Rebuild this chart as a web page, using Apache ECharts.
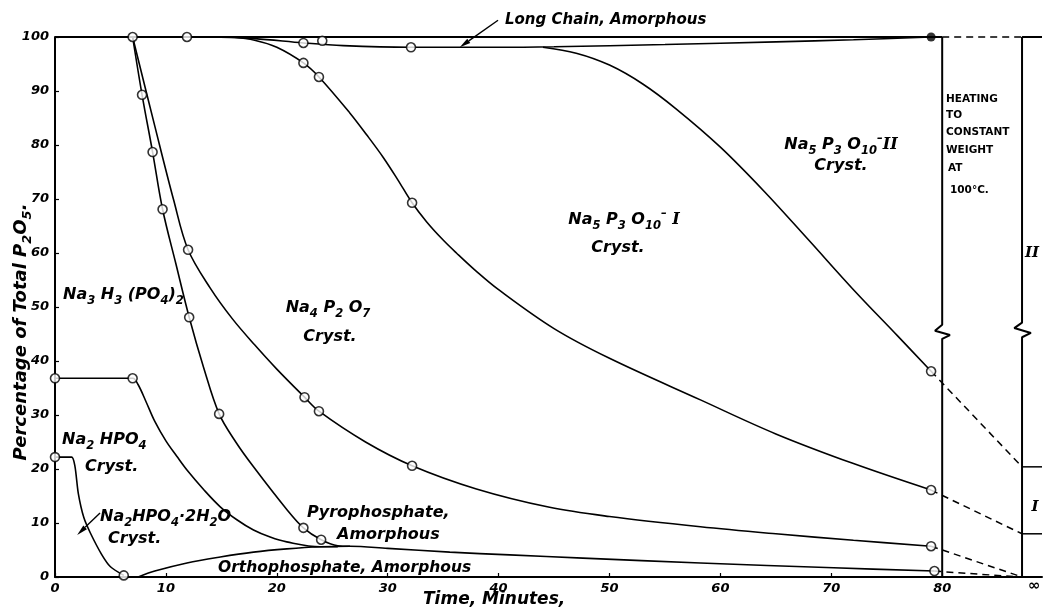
<!DOCTYPE html>
<html>
<head>
<meta charset="utf-8">
<script src="https://cdn.jsdelivr.net/npm/echarts@6/dist/echarts.min.js"></script>
<style>html,body{margin:0;padding:0;background:#fff}#c{width:1043px;height:609px}</style>
</head>
<body>
<div id="c"></div>
<script>
// ---------- data ----------
const xTickValues = [0, 10, 20, 30, 40, 50, 60, 70, 80];
const yTickValues = [0, 10, 20, 30, 40, 50, 60, 70, 80, 90, 100];
const infinityX = 87.2;

const topLine = [[0, 100], [80, 100]];
const topDash = [[80, 100], [87.2, 100]];
const longChainLower = [[7, 100], [14, 100], [18, 99.7], [22.4, 98.9], [26, 98.4], [32, 98.1], [40, 98.1], [45, 98.2], [55, 98.6], [65, 99.1], [72, 99.5], [79, 100]];
const tripolyIIBoundary = [[44, 98.1], [47, 97], [50, 94.8], [53, 91.3], [56, 86.7], [60, 79.6], [64, 71.3], [68, 62.3], [72, 53.2], [76, 44.6], [79, 38.1]];
const tripolyIIExt = [[79, 38.1], [87.2, 20.4]];
const tripolyIBoundary = [[16, 100], [18, 99.4], [20, 98.1], [22.4, 95.2], [23.8, 92.6], [26.6, 85.9], [28.1, 81.9], [29.6, 77.7], [30.9, 73.6], [32.2, 69.3], [33.5, 65.8], [35, 62.4], [36.2, 60], [38, 56.6], [40, 53.2], [45, 46], [50, 40.5], [58.2, 32.8], [65, 26.5], [72, 21], [79, 16.1]];
const tripolyIExt = [[79, 16.1], [87.2, 8]];
const pyroCrystBoundary = [[7, 100], [9, 83.5], [10.7, 69.8], [12, 60.6], [14, 53.5], [16, 47.8], [18, 43], [20, 38.5], [22.5, 33.3], [23.8, 30.7], [28, 25], [32.2, 20.6], [38, 16.3], [44.6, 12.9], [50, 11.2], [58.2, 9.3], [65, 8], [72, 6.8], [79, 5.7]];
const pyroCrystExt = [[79, 5.7], [87.2, 0]];
const pyroAmorphBoundary = [[7, 100], [7.85, 89.3], [8.8, 78.7], [9.7, 68.1], [10.9, 58], [12.1, 48.1], [13.4, 38.8], [14.8, 30.2], [16.3, 25], [17.9, 20.4], [20.9, 12.5], [22.4, 9.1], [24, 6.9], [25.5, 5.8], [26.6, 5.7]];
const acidSaltBoundary = [[0, 36.8], [7, 36.8], [7.5, 35.6], [8.2, 32.5], [9, 28.8], [10, 25.2], [11, 22.3], [11.9, 19.8], [13.4, 16.2], [14.9, 13], [16.4, 10.6], [17.9, 8.7], [19.4, 7.4], [20.9, 6.5], [23.9, 5.6], [25.5, 5.6]];
const dihydrateBoundary = [[0, 22.2], [1.5, 22.2], [1.8, 20.5], [2.1, 15.5], [2.6, 11], [3.2, 8.1], [4.2, 4.2], [5, 1.9], [6.2, 0.3]];
const orthoBoundary = [[7.5, 0], [9, 1.1], [11.9, 2.6], [14.9, 3.7], [17.9, 4.6], [20.9, 5.2], [23.9, 5.6], [26.6, 5.7], [30, 5.3], [35.6, 4.6], [41, 4.1], [47.6, 3.5], [58.2, 2.6], [70.2, 1.7], [79.3, 1.1]];
const orthoExt = [[79.3, 1.1], [87, 0]];

const openCircles = [[7, 100], [11.9, 100], [22.4, 98.9], [24.1, 99.3], [32.1, 98.1],
  [22.4, 95.2], [23.8, 92.6], [32.2, 69.3], [79, 38.1], [79, 16.1],
  [7.85, 89.3], [8.8, 78.7], [9.7, 68.1], [12.1, 48.1], [14.8, 30.2], [22.4, 9.1], [24, 6.9],
  [12, 60.6], [22.5, 33.3], [23.8, 30.7], [32.2, 20.6], [79, 5.7],
  [0, 36.8], [7, 36.8], [0, 22.2], [6.2, 0.3], [79.3, 1.1]];
const filledCircles = [[79, 100]];

const heatingBar = [[80, 0], [80, 44.1], [80.7, 44.8], [79.35, 45.6], [80, 46.7], [80, 100]];
const infinityBar = [[87.2, 0], [87.2, 44.4], [88, 45.2], [86.5, 46.1], [87.2, 47.1], [87.2, 100]];
const infTop = [[87.2, 100], [89, 100]];
const infSplitII = [[87.2, 20.4], [89, 20.4]];
const infSplitI = [[87.2, 8], [89, 8]];

const longChainArrow = [[39.95, 103.1], [36.5, 98.1]];
const dihydrateArrow = [[4.06, 11.85], [2.0, 7.8]];

// ---------- chart ----------
const FF = '"DejaVu Sans", sans-serif';
const chart = echarts.init(document.getElementById('c'));

function line(data, opts) {
  return Object.assign({
    type: 'line', data: data, symbol: 'none', smooth: 0.35, clip: false,
    silent: true, z: 2,
    lineStyle: { color: '#000', width: 1.6 }
  }, opts || {});
}
function dashed(data) {
  return line(data, { smooth: false, lineStyle: { color: '#000', width: 1.5, type: [7, 5] } });
}
function straight(data, w) {
  return line(data, { smooth: false, lineStyle: { color: '#000', width: w || 2 } });
}

const option = {
  animation: false,
  backgroundColor: '#fff',
  grid: { left: 55, right: 1, top: 37, bottom: 32 },
  xAxis: {
    type: 'value', min: 0, max: 89, interval: 10,
    axisLine: { lineStyle: { color: '#000', width: 2 } },
    axisTick: { inside: true, length: 4, customValues: xTickValues, lineStyle: { color: '#000', width: 1.2 } },
    axisLabel: { customValues: xTickValues, margin: 5, color: '#000', fontFamily: FF, fontStyle: 'italic', fontWeight: 'bold', fontSize: 13 },
    splitLine: { show: false }
  },
  yAxis: {
    type: 'value', min: 0, max: 100, interval: 10,
    axisLine: { show: true, lineStyle: { color: '#000', width: 2 } },
    axisTick: { show: true, inside: true, length: 4, customValues: yTickValues, lineStyle: { color: '#000', width: 1.2 } },
    axisLabel: { customValues: yTickValues, margin: 6, color: '#000', fontFamily: FF, fontStyle: 'italic', fontWeight: 'bold', fontSize: 13 },
    splitLine: { show: false }
  },
  series: [
    straight(topLine, 2),
    dashed(topDash),
    line(longChainLower),
    line(tripolyIIBoundary),
    dashed(tripolyIIExt),
    line(tripolyIBoundary),
    dashed(tripolyIExt),
    line(pyroCrystBoundary),
    dashed(pyroCrystExt),
    line(pyroAmorphBoundary),
    line(acidSaltBoundary),
    line(dihydrateBoundary, { smooth: 0.25 }),
    line(orthoBoundary),
    dashed(orthoExt),
    straight(heatingBar, 2),
    straight(infinityBar, 2),
    straight(infTop, 2),
    straight(infSplitII, 1.5),
    straight(infSplitI, 1.5),
    {
      type: 'scatter', data: openCircles, symbol: 'circle', symbolSize: 9, clip: false, z: 5, silent: true,
      itemStyle: { color: '#fff', borderColor: '#000', borderWidth: 1.6 }
    },
    {
      type: 'scatter', data: filledCircles, symbol: 'circle', symbolSize: 9, clip: false, z: 5, silent: true,
      itemStyle: { color: '#000' }
    }
  ]
};
chart.setOption(option);

// ---------- annotations ----------
function rich(fs) {
  const sub = fs * 0.72;
  const base = { fontFamily: FF, fontStyle: 'italic', fontWeight: 'bold', fill: '#000' };
  return {
    s: Object.assign({ fontSize: sub, lineHeight: sub, verticalAlign: 'bottom' }, base),
    u: Object.assign({ fontSize: sub, lineHeight: sub, verticalAlign: 'top' }, base),
    r: Object.assign({}, base, { fontFamily: '"DejaVu Serif", serif', fontSize: fs })
  };
}
function txt(text, x, y, fs, align, extra) {
  return Object.assign({
    type: 'text', silent: true, z: 10,
    style: {
      text: text, x: x, y: y, fill: '#000',
      fontFamily: FF, fontStyle: 'italic', fontWeight: 'bold', fontSize: fs,
      lineHeight: fs * 1.5, align: align || 'left', verticalAlign: 'middle',
      rich: rich(fs)
    }
  }, extra || {});
}
function plain(text, x, y, fs) {
  return {
    type: 'text', silent: true, z: 10,
    style: { text: text, x: x, y: y, fill: '#000', fontFamily: FF, fontWeight: 'bold', fontSize: fs, align: 'left', verticalAlign: 'middle' }
  };
}
function arrow(pts) {
  const a = chart.convertToPixel({ gridIndex: 0 }, pts[0]);
  const b = chart.convertToPixel({ gridIndex: 0 }, pts[1]);
  const dx = b[0] - a[0], dy = b[1] - a[1];
  const len = Math.sqrt(dx * dx + dy * dy);
  const ux = dx / len, uy = dy / len;
  const hl = 11, hw = 2.6;
  const bx = b[0] - ux * hl, by = b[1] - uy * hl;
  return [
    { type: 'line', silent: true, z: 9, shape: { x1: a[0], y1: a[1], x2: bx, y2: by }, style: { stroke: '#000', lineWidth: 1.4 } },
    { type: 'polygon', silent: true, z: 9, shape: { points: [[b[0], b[1]], [bx - uy * hw, by + ux * hw], [bx + uy * hw, by - ux * hw]] }, style: { fill: '#000' } }
  ];
}

const infPix = chart.convertToPixel({ gridIndex: 0 }, [infinityX, 0]);

const graphics = [
  txt('Long Chain, Amorphous', 505, 20, 15),
  txt('Na{s|5} P{s|3} O{s|10}{u|–}{r|II}', 841, 145, 16, 'center'),
  txt('Cryst.', 841, 166, 16, 'center'),
  txt('Na{s|5} P{s|3} O{s|10}{u|–} {r|I}', 624, 220, 16, 'center'),
  txt('Cryst.', 618, 248, 16, 'center'),
  txt('Na{s|4} P{s|2} O{s|7}', 328, 308, 16, 'center'),
  txt('Cryst.', 330, 337, 16, 'center'),
  txt('Na{s|3} H{s|3} (PO{s|4}){s|2}', 63, 295, 16),
  txt('Na{s|2} HPO{s|4}', 62, 440, 16),
  txt('Cryst.', 85, 467, 16),
  txt('Na{s|2}HPO{s|4}·2H{s|2}O', 100, 517, 16),
  txt('Cryst.', 108, 539, 16),
  txt('Pyrophosphate,', 307, 513, 16),
  txt('Amorphous', 337, 535, 16),
  txt('Orthophosphate, Amorphous', 218, 568, 15.5),
  plain('HEATING', 946, 99, 10.5),
  plain('TO', 946, 115, 10.5),
  plain('CONSTANT', 946, 132, 10.5),
  plain('WEIGHT', 946, 150, 10.5),
  plain('AT', 948, 168, 10.5),
  plain('100°C.', 950, 190, 10.5),
  txt('{r|II}', 1032, 253, 15, 'center'),
  txt('{r|I}', 1035, 507, 15, 'center'),
  txt('∞', infPix[0] + 6, 586, 15),
  txt('Time, Minutes,', 423, 600, 17),
  {
    type: 'text', silent: true, z: 10, x: 21, y: 332, rotation: Math.PI / 2,
    style: {
      text: 'Percentage of Total P{s|2}O{s|5}.', x: 0, y: 0, fill: '#000',
      fontFamily: FF, fontStyle: 'italic', fontWeight: 'bold', fontSize: 18,
      lineHeight: 27, align: 'center', verticalAlign: 'middle', rich: rich(18)
    }
  }
].concat(arrow(longChainArrow), arrow(dihydrateArrow));

chart.setOption({ graphic: graphics });
</script>
</body>
</html>
